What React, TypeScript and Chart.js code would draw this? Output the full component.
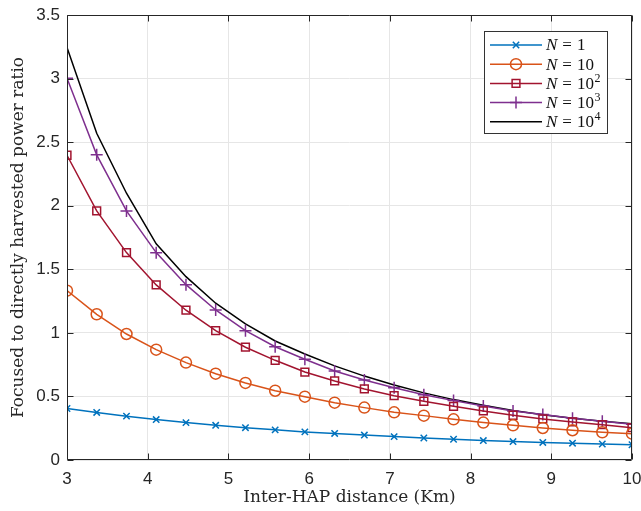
import React, { useEffect, useRef } from "react";
import { Chart, registerables } from "chart.js";

Chart.register(...registerables);

const distanceKm = [3, 3.368, 3.737, 4.105, 4.474, 4.842, 5.211, 5.579, 5.947, 6.316, 6.684, 7.053, 7.421, 7.789, 8.158, 8.526, 8.895, 9.263, 9.632, 10];

const ratioN1 = [0.405, 0.374, 0.345, 0.318, 0.294, 0.273, 0.254, 0.237, 0.221, 0.209, 0.196, 0.184, 0.173, 0.163, 0.153, 0.145, 0.138, 0.132, 0.126, 0.12];
const ratioN10 = [1.332, 1.146, 0.991, 0.868, 0.766, 0.679, 0.606, 0.545, 0.498, 0.451, 0.412, 0.375, 0.349, 0.32, 0.294, 0.273, 0.252, 0.234, 0.218, 0.207];
const ratioN100 = [2.397, 1.959, 1.631, 1.377, 1.178, 1.017, 0.887, 0.784, 0.692, 0.622, 0.559, 0.506, 0.462, 0.422, 0.386, 0.352, 0.323, 0.299, 0.278, 0.254];
const ratioN1000 = [3.003, 2.4, 1.959, 1.631, 1.379, 1.18, 1.017, 0.891, 0.792, 0.7, 0.629, 0.569, 0.514, 0.467, 0.425, 0.386, 0.357, 0.328, 0.304, 0.281];
const ratioN10000 = [3.244, 2.57, 2.098, 1.7, 1.442, 1.233, 1.07, 0.936, 0.834, 0.74, 0.66, 0.59, 0.528, 0.475, 0.43, 0.39, 0.356, 0.328, 0.305, 0.286];

const legendBases = ["1", "10", "10", "10", "10"];
const legendExponents = ["", "", "2", "3", "4"];

const seriesColors = ["#0072BD", "#D95319", "#A2142F", "#7E2F8E", "#000000"];
const seriesMarkers = ["crossRot", "circle", "rect", "cross", "none"];
const seriesRadius = [4.5, 5.5, 5.5, 6, 0];

const xTitle = "Inter-HAP distance (Km)";
const yTitle = "Focused to directly harvested power ratio";

const AXIS_COLOR = "#262626";
const TITLE_FONT = "'DejaVu Serif', 'Liberation Serif', serif";

function drawMarker(ctx: CanvasRenderingContext2D, style: string, x: number, y: number, r: number) {
  ctx.beginPath();
  if (style === "circle") {
    ctx.arc(x, y, r, 0, Math.PI * 2);
  } else if (style === "rect") {
    const s = r * Math.SQRT1_2;
    ctx.rect(x - s, y - s, 2 * s, 2 * s);
  } else if (style === "cross") {
    ctx.moveTo(x - r, y);
    ctx.lineTo(x + r, y);
    ctx.moveTo(x, y - r);
    ctx.lineTo(x, y + r);
  } else if (style === "crossRot") {
    const d = r * Math.SQRT1_2;
    ctx.moveTo(x - d, y - d);
    ctx.lineTo(x + d, y + d);
    ctx.moveTo(x - d, y + d);
    ctx.lineTo(x + d, y - d);
  }
  ctx.stroke();
}

const boxPlugin = {
  id: "matlabBox",
  afterDraw(chart: any) {
    const { ctx, chartArea: a, scales } = chart;
    ctx.save();
    ctx.strokeStyle = AXIS_COLOR;
    ctx.lineWidth = 1;
    const L = Math.round(a.left) + 0.5;
    const R = Math.round(a.right) - 0.5;
    const T = Math.round(a.top) + 0.5;
    const B = Math.round(a.bottom) - 0.5;
    ctx.beginPath();
    ctx.rect(L, T, R - L, B - T);
    ctx.stroke();
    const tl = 6;
    ctx.beginPath();
    scales.x.ticks.forEach((t: any) => {
      const px = Math.round(scales.x.getPixelForValue(t.value)) + 0.5;
      ctx.moveTo(px, B);
      ctx.lineTo(px, B - tl);
      ctx.moveTo(px, T);
      ctx.lineTo(px, T + tl);
    });
    scales.y.ticks.forEach((t: any) => {
      const py = Math.round(scales.y.getPixelForValue(t.value)) + 0.5;
      ctx.moveTo(L, py);
      ctx.lineTo(L + tl, py);
      ctx.moveTo(R, py);
      ctx.lineTo(R - tl, py);
    });
    ctx.stroke();

    // legend
    const bx = 484.5, by = 31.5, bw = 123, bh = 102;
    ctx.fillStyle = "#ffffff";
    ctx.fillRect(bx, by, bw, bh);
    ctx.strokeStyle = "#333333";
    ctx.strokeRect(bx, by, bw, bh);
    const rowY0 = 45;
    const rowStep = 19.2;
    chart.data.datasets.forEach((ds: any, i: number) => {
      const y = rowY0 + i * rowStep;
      ctx.strokeStyle = seriesColors[i];
      ctx.lineWidth = 1.5;
      ctx.beginPath();
      ctx.moveTo(490, y);
      ctx.lineTo(542, y);
      ctx.stroke();
      if (seriesMarkers[i] !== "none") {
        drawMarker(ctx, seriesMarkers[i], 516, y, seriesRadius[i]);
      }
      ctx.fillStyle = "#111111";
      ctx.textBaseline = "middle";
      ctx.textAlign = "left";
      let tx = 546;
      ctx.font = "italic 17px 'Liberation Serif'";
      ctx.fillText("N", tx, y + 1);
      tx += ctx.measureText("N").width + 5;
      ctx.font = "17px 'Liberation Serif'";
      ctx.fillText("=", tx, y + 1);
      tx += ctx.measureText("=").width + 5;
      ctx.fillText(legendBases[i], tx, y + 1);
      tx += ctx.measureText(legendBases[i]).width + 0.5;
      if (legendExponents[i]) {
        ctx.font = "12px 'Liberation Serif'";
        ctx.fillText(legendExponents[i], tx, y - 5);
      }
    });
    ctx.restore();
  },
};

export default function App() {
  const canvasRef = useRef<HTMLCanvasElement | null>(null);

  useEffect(() => {
    const canvas = canvasRef.current;
    if (!canvas) return;
    const makeData = (ys: number[]) => distanceKm.map((x, i) => ({ x, y: ys[i] }));
    const allSeries = [ratioN1, ratioN10, ratioN100, ratioN1000, ratioN10000];
    const datasets = allSeries.map((ys, i) => ({
      label: "N = " + legendBases[i] + legendExponents[i],
      data: makeData(ys),
      borderColor: seriesColors[i],
      backgroundColor: "rgba(0,0,0,0)",
      borderWidth: 1.5,
      pointStyle: seriesMarkers[i] === "none" ? false : seriesMarkers[i],
      pointRadius: seriesRadius[i],
      pointBorderWidth: 1.5,
      pointBorderColor: seriesColors[i],
      pointBackgroundColor: "rgba(0,0,0,0)",
      tension: 0,
      fill: false,
    }));

    const chart = new Chart(canvas, {
      type: "line",
      data: { datasets },
      plugins: [boxPlugin],
      options: {
        animation: false,
        responsive: false,
        maintainAspectRatio: false,
        devicePixelRatio: 1,
        layout: { padding: { top: 15, right: 9, left: 0, bottom: 0 } },
        plugins: { legend: { display: false }, tooltip: { enabled: false } },
        scales: {
          x: {
            type: "linear",
            min: 3,
            max: 10,
            border: { display: false },
            grid: { color: "#e6e6e6", lineWidth: 1, drawTicks: false },
            ticks: {
              stepSize: 1,
              padding: 9,
              color: "#262626",
              font: { family: "'Liberation Sans', Arial, sans-serif", size: 17 },
              maxRotation: 0,
              callback: (v: any) => String(Number(v)),
            },
            title: {
              display: true,
              text: xTitle,
              color: "#262626",
              font: { family: TITLE_FONT, size: 17 },
              padding: { top: 0, bottom: 3 },
            },
            afterFit(scale: any) {
              scale.height = 51;
              scale.paddingLeft = 0;
              scale.paddingRight = 0;
            },
          },
          y: {
            type: "linear",
            min: 0,
            max: 3.5,
            border: { display: false },
            grid: { color: "#e6e6e6", lineWidth: 1, drawTicks: false },
            ticks: {
              stepSize: 0.5,
              padding: 7,
              color: "#262626",
              font: { family: "'Liberation Sans', Arial, sans-serif", size: 17 },
              callback: (v: any) => String(Number(v)),
            },
            title: {
              display: true,
              text: yTitle,
              color: "#262626",
              font: { family: TITLE_FONT, size: 17 },
              padding: { top: 8, bottom: 0 },
            },
            afterFit(scale: any) {
              scale.width = 67;
              scale.paddingTop = 0;
              scale.paddingBottom = 0;
            },
          },
        },
      },
    } as any);

    return () => chart.destroy();
  }, []);

  return (
    <div style={{ position: "absolute", left: 0, top: 0, width: 641, height: 511, background: "#ffffff" }}>
      <canvas ref={canvasRef} width={641} height={511} style={{ display: "block", width: 641, height: 511 }} />
    </div>
  );
}
